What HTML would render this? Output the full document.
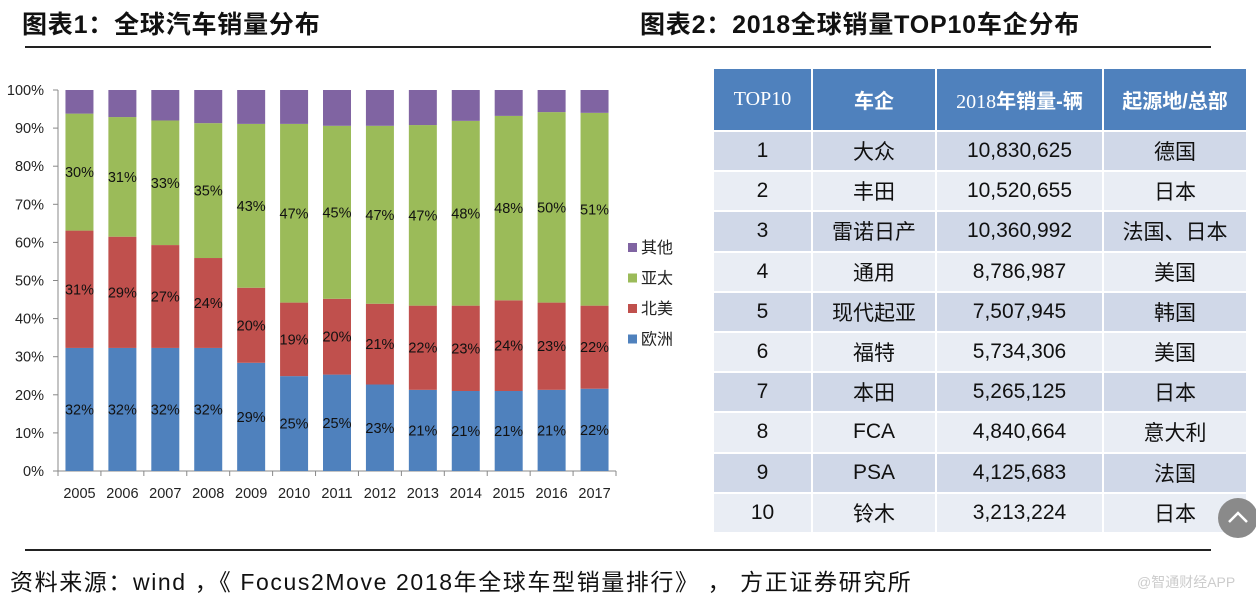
<!DOCTYPE html>
<html><head><meta charset="utf-8">
<style>
body{margin:0;width:1256px;height:599px;background:#fff;position:relative;overflow:hidden;font-family:"Liberation Sans","Noto Sans CJK SC",sans-serif;}
.title{position:absolute;top:5px;font-size:25px;font-weight:bold;color:#111;letter-spacing:0.8px;font-family:"Liberation Sans","Noto Sans CJK SC",sans-serif;}
.hr{position:absolute;left:25px;width:1186px;height:2px;background:#222;}
table{position:absolute;left:712px;top:67px;border-collapse:collapse;}
td{border:2px solid #fff;text-align:center;font-size:21px;color:#111;padding:0;}
th{border:2px solid #fff;background:#4f81bd;color:#fff;font-size:20px;height:61px;padding:0;}
tr.o td{background:#d0d8e8;} tr.e td{background:#e9edf4;}
tr.o td,tr.e td{height:38.2px;}
</style></head><body>
<div class="title" style="left:22px">图表1：全球汽车销量分布</div>
<div class="title" style="left:640px">图表2：2018全球销量TOP10车企分布</div>
<div class="hr" style="top:46px"></div>
<svg id="chart" width="700" height="510" style="position:absolute;left:0;top:0" font-family="Liberation Sans, DejaVu Sans, sans-serif"></svg>
<table>
<tr><th style="width:97px;font-weight:normal;font-family:'Liberation Serif',serif">TOP10</th><th style="width:122px">车企</th><th style="width:165px"><span style="font-weight:normal;font-family:'Liberation Serif',serif">2018</span>年销量-辆</th><th style="width:142px">起源地/总部</th></tr>
<tr class="o"><td>1</td><td>大众</td><td>10,830,625</td><td>德国</td></tr>
<tr class="e"><td>2</td><td>丰田</td><td>10,520,655</td><td>日本</td></tr>
<tr class="o"><td>3</td><td>雷诺日产</td><td>10,360,992</td><td>法国、日本</td></tr>
<tr class="e"><td>4</td><td>通用</td><td>8,786,987</td><td>美国</td></tr>
<tr class="o"><td>5</td><td>现代起亚</td><td>7,507,945</td><td>韩国</td></tr>
<tr class="e"><td>6</td><td>福特</td><td>5,734,306</td><td>美国</td></tr>
<tr class="o"><td>7</td><td>本田</td><td>5,265,125</td><td>日本</td></tr>
<tr class="e"><td>8</td><td>FCA</td><td>4,840,664</td><td>意大利</td></tr>
<tr class="o"><td>9</td><td>PSA</td><td>4,125,683</td><td>法国</td></tr>
<tr class="e"><td>10</td><td>铃木</td><td>3,213,224</td><td>日本</td></tr>
</table>
<div style="position:absolute;left:1218px;top:498px;width:40px;height:40px;border-radius:50%;background:#8a8a8a;"><svg width="40" height="40"><polyline points="11,24 20,15 29,24" fill="none" stroke="#fff" stroke-width="2.5"/></svg></div>
<div class="hr" style="top:549px"></div>
<div style="position:absolute;left:10px;top:563px;font-size:23px;letter-spacing:1.6px;color:#111;white-space:pre">资料来源：wind ，《 Focus2Move 2018年全球车型销量排行》 ， 方正证券研究所</div>
<div style="position:absolute;left:1137px;top:572px;font-size:14px;color:#ccc">@智通财经APP</div>
<script>
const years=["2005","2006","2007","2008","2009","2010","2011","2012","2013","2014","2015","2016","2017"];
const europe=[32.3,32.3,32.3,32.3,28.4,24.9,25.3,22.7,21.3,21.0,21.0,21.3,21.6];
const namerica=[30.8,29.2,27.0,23.6,19.7,19.3,19.9,21.2,22.1,22.4,23.8,22.9,21.8];
const asia=[30.7,31.4,32.7,35.4,43.0,46.9,45.4,46.7,47.4,48.5,48.4,50.0,50.6];
const other=[6.2,7.1,8.0,8.7,8.9,8.9,9.4,9.4,9.2,8.1,6.8,5.8,6.0];
const euLabels=["32%","32%","32%","32%","29%","25%","25%","23%","21%","21%","21%","21%","22%"];
const naLabels=["31%","29%","27%","24%","20%","19%","20%","21%","22%","23%","24%","23%","22%"];
const apLabels=["30%","31%","33%","35%","43%","47%","45%","47%","47%","48%","48%","50%","51%"];
const yTicks=[0,10,20,30,40,50,60,70,80,90,100];
const NS="http://www.w3.org/2000/svg",svg=document.getElementById('chart');
const x0=58,x1=616,yB=471,yT=90;
const step=(x1-x0)/years.length,bw=28;
const y=v=>yB-(yB-yT)*v/100;
const xc=i=>x0+step*(i+0.5);
function mk(t,a,p){const e=document.createElementNS(NS,t);for(const k in a)e.setAttribute(k,a[k]);(p||svg).appendChild(e);return e;}
let ax=mk('line',{x1:x0,y1:yT,x2:x0,y2:yB,stroke:'#888'});


let bx=mk('line',{x1:x0-5,y1:yB,x2:x1,y2:yB,stroke:'#888'});


yTicks.forEach(v=>{
  mk('line',{x1:x0-5,y1:y(v),x2:x0,y2:y(v),stroke:'#888'});
  const t=mk('text',{x:x0-14,y:y(v)+5,'text-anchor':'end','font-size':14.5,fill:'#222'});
  t.textContent=v+'%';
  
  
});
for(let i=0;i<=years.length;i++)mk('line',{x1:x0+step*i,y1:yB,x2:x0+step*i,y2:yB+5,stroke:'#888'});
const series=[[europe,'#4f81bd',euLabels,'europe'],[namerica,'#c0504d',naLabels,'north-america'],[asia,'#9bbb59',apLabels,'asia-pacific'],[other,'#8064a2',null,'other']];
years.forEach((yr,i)=>{
  let base=0;
  series.forEach(([arr,col,lab,nm])=>{
    const v=arr[i];
    const r=mk('rect',{x:xc(i)-bw/2,y:y(base+v),width:bw,height:y(base)-y(base+v),fill:col});
    
    
    if(lab){const t=mk('text',{x:xc(i),y:y(base+v/2)+5,'text-anchor':'middle','font-size':14.5,fill:'#111'});t.textContent=lab[i];
      
      }
    base+=v;
  });
  const t=mk('text',{x:xc(i),y:498,'text-anchor':'middle','font-size':14.5,fill:'#222'});
  t.textContent=yr;
  
  
});
const leg=[['其他','#8064a2'],['亚太','#9bbb59'],['北美','#c0504d'],['欧洲','#4f81bd']];
leg.forEach(([n,c],k)=>{
  const g=mk('g',{});
  
  
  const yy=247+k*30.5;
  mk('rect',{x:628,y:yy-4,width:9,height:9,fill:c},g);
  const t=mk('text',{x:641,y:yy+6,'font-size':16,fill:'#222','font-family':'Noto Sans CJK SC, sans-serif'},g);t.textContent=n;
});
</script>
</body></html>
